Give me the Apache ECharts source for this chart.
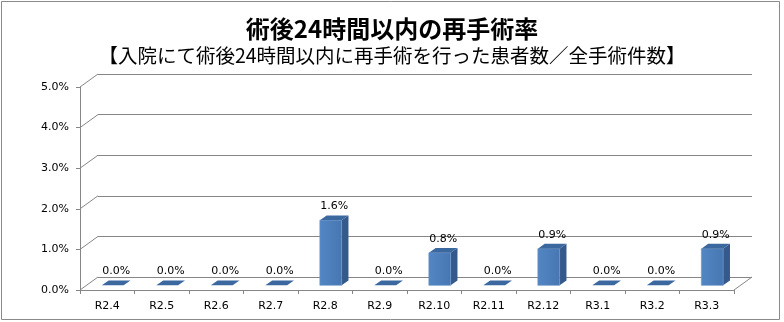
<!DOCTYPE html>
<html>
<head>
<meta charset="utf-8">
<script src="https://cdn.jsdelivr.net/npm/echarts@6/dist/echarts.min.js"></script>
<style>
html,body{margin:0;padding:0;background:#fff;}
#chart{width:784px;height:322px;}
</style>
</head>
<body>
<div id="chart"></div>
<script>
const titleText = '術後24時間以内の再手術率';
const subtitleText = '【入院にて術後24時間以内に再手術を行った患者数／全手術件数】';
const categories = ['R2.4','R2.5','R2.6','R2.7','R2.8','R2.9','R2.10','R2.11','R2.12','R3.1','R3.2','R3.3'];
const rates = [0, 0, 0, 0, 1.6, 0, 0.8, 0, 0.9, 0, 0, 0.9];
const yTicks = [0, 1, 2, 3, 4, 5];

const DX = 18, DY = 13;      // wall depth
const F1 = 0.36, F2 = 0.74;  // bar depth fractions
const gridColor = '#868686';
const labelFont = '11px "DejaVu Sans"';

const chart = echarts.init(document.getElementById('chart'), null, {renderer: 'canvas'});

function wallItem(params, api) {
  const cs = params.coordSys;
  const p = api.coord([0, api.value(1)]);
  const y = p[1];
  const children = [{
    type: 'line',
    shape: {x1: cs.x, y1: y, x2: cs.x + DX, y2: y - DY},
    style: {stroke: gridColor, lineWidth: 1}
  }];
  if (api.value(1) === 0) {
    children.push({
      type: 'line',
      shape: {x1: cs.x + cs.width, y1: y, x2: cs.x + cs.width + DX, y2: y - DY},
      style: {stroke: gridColor, lineWidth: 1}
    });
  }
  return {type: 'group', children: children};
}

function barItem(params, api) {
  const idx = api.value(0);
  const v = api.value(1);
  const base = api.coord([idx, 0]);
  const top = api.coord([idx, v]);
  const cw = api.size([1, 0])[0];
  const bw = cw * 0.4;
  const x0 = base[0] - bw / 2 + DX * F1 - 1;
  const yBot = base[1] - DY * F1;
  const yTop = top[1] - DY * F1;
  const ddx = DX * (F2 - F1), ddy = DY * (F2 - F1);
  const children = [];
  if (yBot - yTop > 0.5) {
    children.push({
      type: 'polygon',
      shape: {points: [[x0 + bw, yTop], [x0 + bw + ddx, yTop - ddy], [x0 + bw + ddx, yBot - ddy], [x0 + bw, yBot]]},
      style: {fill: '#35598A'}
    });
    children.push({
      type: 'rect',
      shape: {x: x0, y: yTop, width: bw, height: yBot - yTop},
      style: {
        fill: new echarts.graphic.LinearGradient(0, 0, 1, 0, [
          {offset: 0, color: '#5286C4'},
          {offset: 1, color: '#4777B2'}
        ]),
        stroke: '#6A95CB', lineWidth: 0.6
      }
    });
  }
  children.push({
    type: 'polygon',
    shape: {points: [[x0, yTop], [x0 + bw, yTop], [x0 + bw + ddx, yTop - ddy], [x0 + ddx, yTop - ddy]]},
    style: {fill: '#3C68A0'}
  });
  children.push({
    type: 'text',
    style: {
      text: v.toFixed(1) + '%',
      x: x0 + bw / 2 + ddx / 2,
      y: yTop - ddy - 9,
      align: 'center',
      verticalAlign: 'middle',
      font: labelFont,
      fill: '#000'
    }
  });
  return {type: 'group', children: children};
}

const option = {
  backgroundColor: '#fff',
  animation: false,
  title: [
    {text: titleText, left: 'center', top: 12,
     textStyle: {fontFamily: '"Noto Sans CJK JP"', fontSize: 24, fontWeight: 'bold', color: '#000'}},
    {text: subtitleText, left: 'center', top: 41,
     textStyle: {fontFamily: '"Noto Sans CJK JP"', fontSize: 19.5, fontWeight: 'normal', color: '#000'}}
  ],
  graphic: [{
    type: 'rect', silent: true, z: -10,
    shape: {x: 1.5, y: 1.5, width: 778, height: 318},
    style: {fill: 'none', stroke: '#8a8a8a', lineWidth: 1}
  }],
  grid: [
    {left: 80, right: 50, top: 87, bottom: 32},
    {left: 98, right: 32, top: 74, bottom: 45}
  ],
  xAxis: [
    {type: 'category', gridIndex: 0, data: categories, boundaryGap: true,
     axisLine: {lineStyle: {color: gridColor}},
     axisTick: {show: true, length: 4, lineStyle: {color: gridColor}},
     axisLabel: {margin: 11, fontFamily: 'DejaVu Sans', fontSize: 11, color: '#000'}},
    {type: 'category', gridIndex: 1, data: categories, show: false}
  ],
  yAxis: [
    {type: 'value', gridIndex: 0, min: 0, max: 5, interval: 1,
     axisLine: {show: true, lineStyle: {color: gridColor}},
     axisTick: {show: true, length: 4, lineStyle: {color: gridColor}},
     splitLine: {show: false},
     axisLabel: {margin: 11, fontFamily: 'DejaVu Sans', fontSize: 11, color: '#000',
                 formatter: function (v) { return v.toFixed(1) + '%'; }}},
    {type: 'value', gridIndex: 1, min: 0, max: 5, interval: 1,
     axisLine: {show: false}, axisTick: {show: false}, axisLabel: {show: false},
     splitLine: {show: true, lineStyle: {color: gridColor, width: 1}}}
  ],
  series: [
    {type: 'custom', xAxisIndex: 0, yAxisIndex: 0, clip: false, z: 1,
     data: yTicks.map(function (v) { return [0, v]; }),
     encode: {x: 0, y: 1},
     renderItem: wallItem, silent: true},
    {type: 'custom', xAxisIndex: 0, yAxisIndex: 0, clip: false, z: 5,
     data: rates.map(function (v, i) { return [i, v]; }),
     encode: {x: 0, y: 1},
     renderItem: barItem}
  ]
};
chart.setOption(option);
</script>
</body>
</html>
